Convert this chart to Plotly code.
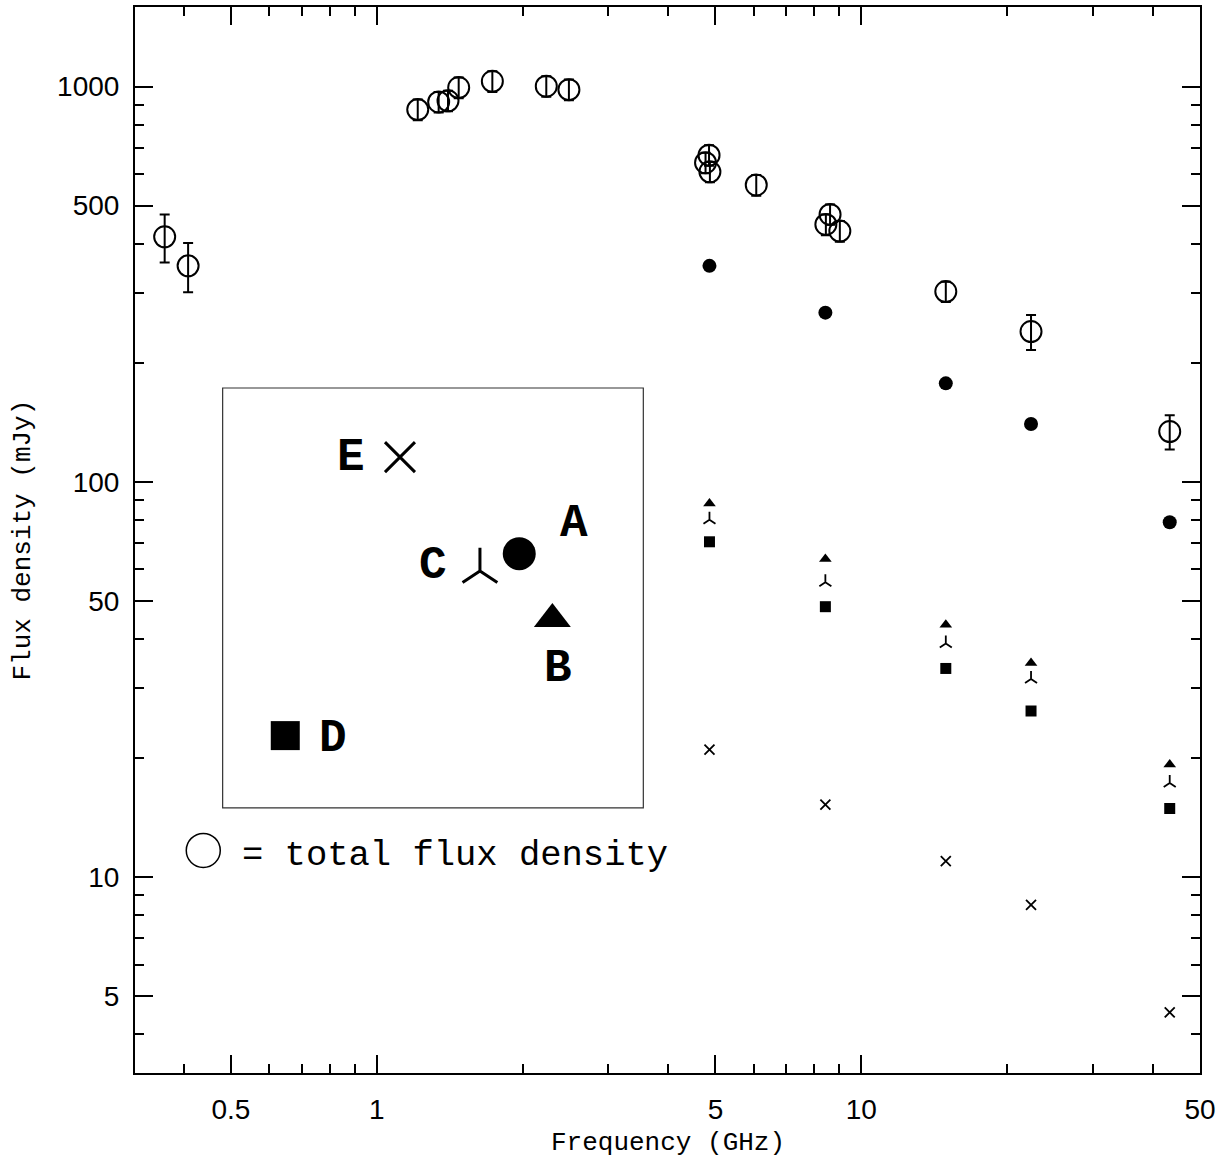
import plotly.graph_objects as go
import math

# ---------------- data ----------------
# total flux density (open circles with error bars)
freq_tot = [0.365, 0.408, 1.215, 1.342, 1.403, 1.476, 1.732, 2.238, 2.492,
            4.77, 4.85, 4.87, 6.07, 8.45, 8.62, 9.03, 14.94, 22.4, 43.3]
flux_tot = [417, 352, 875, 915, 921, 995, 1032, 1003, 983,
            642, 671, 609, 564, 448, 475, 431, 303, 240, 134]
err_tot = [58, 50, 53, 55, 55, 60, 62, 60, 59,
           38, 40, 36, 34, 27, 28, 26, 18, 24.5, 13.3]

# component flux densities
freq_comp = [4.86, 8.43, 14.94, 22.4, 43.3]
flux_A = [352, 268, 177.5, 140, 79.0]
flux_B = [88.1, 63.8, 43.5, 34.8, 19.25]
flux_C = [80.2, 55.7, 39.0, 31.7, 17.3]
flux_D = [70.5, 48.3, 33.7, 26.3, 14.9]
flux_E = [21.0, 15.25, 10.97, 8.5, 4.54]

# ticks
x_major = [0.5, 1, 5, 10, 50]
x_major_text = ["0.5", "1", "5", "10", "50"]
x_minor = [0.4, 0.6, 0.7, 0.8, 0.9, 2, 3, 4, 6, 7, 8, 9, 20, 30, 40]
y_major = [5, 10, 50, 100, 500, 1000]
y_major_text = ["5", "10", "50", "100", "500", "1000"]
y_minor = [4, 6, 7, 8, 9, 20, 30, 40, 60, 70, 80, 90,
           200, 300, 400, 600, 700, 800, 900]
x_lim = [0.317, 50]
y_lim = [3.19, 1591]

# ---------------- style ----------------
SANS = "Helvetica, Liberation Sans, Arial, sans-serif"
MONO = "Liberation Mono, Courier New, monospace"
BLACK = "black"

fig = go.Figure()

comp_styles = [
    (flux_E, "x-thin-open", 10, 1.8),
    (flux_D, "square", 11, 0),
    (flux_C, "y-up-open", 10, 1.8),
    (flux_B, "triangle-up", 11, 0),
    (flux_A, "circle", 14, 0),
]
for vals, sym, size, lw in comp_styles:
    fig.add_trace(go.Scatter(
        x=freq_comp, y=vals, mode="markers",
        marker=dict(symbol=sym, size=size, color=BLACK,
                    line=dict(color=BLACK, width=lw)),
        showlegend=False, hoverinfo="skip"))

fig.add_trace(go.Scatter(
    x=freq_tot, y=flux_tot, mode="markers",
    marker=dict(symbol="circle-open", size=21, color=BLACK,
                line=dict(color=BLACK, width=2)),
    error_y=dict(type="data", array=err_tot, visible=True,
                 color=BLACK, thickness=2, width=5),
    showlegend=False, hoverinfo="skip"))

# ---------------- key (inset) on an overlaid unit axis ----------------
key_items = [
    # (x, y, symbol, size, linewidth)
    (0.2488, 0.5777, "x-thin-open", 30, 3),
    (0.3608, 0.4872, "circle", 33, 0),
    (0.3239, 0.4710, "y-up-open", 29, 3),
    (0.3919, 0.4260, "triangle-up", 32, 0),
    (0.1411, 0.3165, "square", 29, 0),
]
for kx, ky, sym, size, lw in key_items:
    fig.add_trace(go.Scatter(
        x=[kx], y=[ky], xaxis="x2", yaxis="y2", mode="markers",
        marker=dict(symbol=sym, size=size, color=BLACK,
                    line=dict(color=BLACK, width=lw)),
        showlegend=False, hoverinfo="skip", cliponaxis=False))

fig.add_trace(go.Scatter(
    x=[0.0641], y=[0.2088], xaxis="x2", yaxis="y2", mode="markers",
    marker=dict(symbol="circle-open", size=34, color=BLACK,
                line=dict(color=BLACK, width=1.5)),
    showlegend=False, hoverinfo="skip", cliponaxis=False))

key_labels = [("E", 0.2025, 0.5765), ("A", 0.4122, 0.5153),
              ("C", 0.2801, 0.4757), ("B", 0.3975, 0.3789),
              ("D", 0.1862, 0.3134)]
annotations = []
for t, kx, ky in key_labels:
    annotations.append(dict(
        text="<b>%s</b>" % t, x=kx, y=ky, xref="x2", yref="y2",
        showarrow=False, xanchor="center", yanchor="middle",
        font=dict(family=MONO, size=46, color=BLACK)))

annotations.append(dict(
    text="= total flux density", x=0.0986, y=0.2041, xref="x2", yref="y2",
    showarrow=False, xanchor="left", yanchor="middle",
    font=dict(family=MONO, size=35.5, color=BLACK)))

# axis titles
annotations.append(dict(
    text="Frequency (GHz)", x=0.5, y=-0.0655, xref="paper", yref="paper",
    showarrow=False, xanchor="center", yanchor="middle",
    font=dict(family=MONO, size=26, color=BLACK)))
annotations.append(dict(
    text="Flux density (mJy)", x=-0.1056, y=0.5, xref="paper", yref="paper",
    showarrow=False, xanchor="center", yanchor="middle", textangle=-90,
    font=dict(family=MONO, size=26, color=BLACK)))

shapes = [dict(type="rect", xref="x2", yref="y2",
               x0=0.0823, x1=0.4773, y0=0.2488, y1=0.6426,
               line=dict(color="#333333", width=1.2), fillcolor="rgba(0,0,0,0)")]

axis_common = dict(
    showline=True, linecolor=BLACK, linewidth=2, mirror="ticks",
    ticks="inside", ticklen=18, tickwidth=2, tickcolor=BLACK,
    showgrid=False, zeroline=False,
    tickfont=dict(family=SANS, size=28, color=BLACK),
)

fig.update_layout(
    width=1231, height=1164,
    margin=dict(l=135, r=31, t=5, b=91),
    paper_bgcolor="white", plot_bgcolor="white",
    xaxis=dict(type="log", range=[math.log10(x_lim[0]), math.log10(x_lim[1])],
               tickmode="array", tickvals=x_major, ticktext=x_major_text,
               ticklabelstandoff=10,
               minor=dict(tickmode="array", tickvals=x_minor, ticks="inside",
                          ticklen=9, tickwidth=2, tickcolor=BLACK, showgrid=False),
               **axis_common),
    yaxis=dict(type="log", range=[math.log10(y_lim[0]), math.log10(y_lim[1])],
               tickmode="array", tickvals=y_major, ticktext=y_major_text,
               ticklabelstandoff=8,
               minor=dict(tickmode="array", tickvals=y_minor, ticks="inside",
                          ticklen=9, tickwidth=2, tickcolor=BLACK, showgrid=False),
               **axis_common),
    xaxis2=dict(overlaying="x", range=[0, 1], visible=False, fixedrange=True),
    yaxis2=dict(overlaying="y", range=[0, 1], visible=False, fixedrange=True),
    annotations=annotations,
    shapes=shapes,
)

fig.write_html("out.html", config={"displayModeBar": False},
               post_script="document.body.style.margin='0';")
